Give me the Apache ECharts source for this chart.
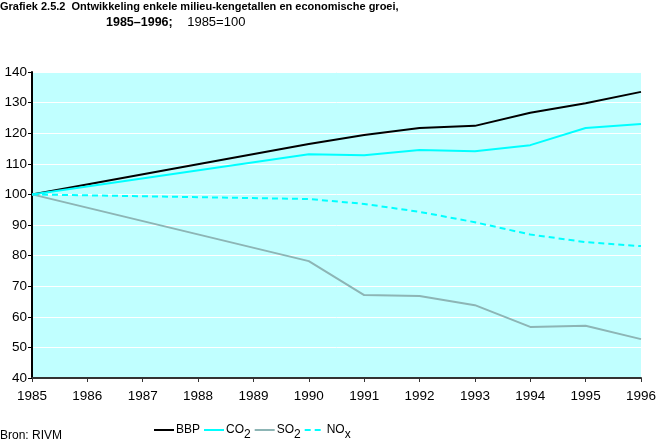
<!DOCTYPE html>
<html>
<head>
<meta charset="utf-8">
<script src="https://cdn.jsdelivr.net/npm/echarts@6/dist/echarts.min.js"></script>
<style>html,body{margin:0;padding:0;background:#fff}#c{width:659px;height:443px}</style>
</head>
<body>
<div id="c"></div>
<script>
var years = [1985, 1990, 1991, 1992, 1993, 1994, 1995, 1996];
var xTicks = [1985, 1986, 1987, 1988, 1989, 1990, 1991, 1992, 1993, 1994, 1995, 1996];
var bbp = [100, 116.5, 119.4, 121.7, 122.4, 126.7, 129.8, 133.5];
var co2 = [100, 113.1, 112.8, 114.5, 114.1, 116.1, 121.7, 123.0];
var so2 = [100, 78.2, 67.1, 66.8, 63.8, 56.7, 57.1, 52.7];
var nox = [100, 98.5, 96.9, 94.3, 90.9, 86.9, 84.4, 83.1];
var seriesNames = ['BBP', 'CO2', 'SO2', 'NOx'];

function pairs(vals) { return years.map(function (y, i) { return [y, vals[i]]; }); }
var FONT = 'Liberation Sans';
var chart = echarts.init(document.getElementById('c'));
chart.setOption({
  animation: false,
  backgroundColor: '#ffffff',
  textStyle: { fontFamily: FONT },
  title: [
    { text: 'Grafiek 2.5.2  Ontwikkeling enkele milieu-kengetallen en economische groei,', left: 0, top: 1, padding: 0,
      textStyle: { fontFamily: FONT, fontSize: 11, fontWeight: 'bold', color: '#000' } },
    { text: '{b|1985–1996;}{n|    1985=100}', left: 106, top: 16, padding: 0,
      textStyle: { fontFamily: FONT, fontSize: 12, fontWeight: 'normal', color: '#000',
        rich: { b: { fontFamily: FONT, fontSize: 12.5, fontWeight: 'bold', color: '#000' },
                n: { fontFamily: FONT, fontSize: 13, fontWeight: 'normal', color: '#000' } } } },
    { text: 'Bron: RIVM', left: 0, top: 430, padding: 0,
      textStyle: { fontFamily: FONT, fontSize: 12, fontWeight: 'normal', color: '#000' } }
  ],
  grid: { left: 32, right: 17, top: 72, bottom: 65, show: true, backgroundColor: '#C0FFFF', borderWidth: 0 },
  legend: {
    top: 419, left: 148, itemWidth: 20, itemHeight: 12, itemGap: 3,
    data: seriesNames,
    itemStyle: { opacity: 0 },
    textStyle: { fontFamily: FONT, fontSize: 12, color: '#000', padding: [0, 0, 0, -3],
      rich: { s: { fontFamily: FONT, fontSize: 12, color: '#000', padding: [9, 0, 0, 0] } } },
    formatter: function (n) {
      if (n === 'CO2') return 'CO{s|2}';
      if (n === 'SO2') return 'SO{s|2}';
      if (n === 'NOx') return 'NO{s|x}';
      return n;
    }
  },
  xAxis: {
    type: 'value', min: 1985, max: 1996, interval: 1,
    axisLine: { lineStyle: { color: '#333', width: 2 } },
    axisTick: { show: true, length: 4, lineStyle: { color: '#333' } },
    axisLabel: { color: '#000', fontSize: 13.5, fontFamily: FONT, margin: 11, formatter: function (v) { return String(v); } },
    splitLine: { show: false }
  },
  yAxis: {
    type: 'value', min: 40, max: 140, interval: 10,
    axisLine: { show: true, lineStyle: { color: '#000', width: 2 } },
    axisTick: { show: true, length: 4, lineStyle: { color: '#000' } },
    axisLabel: { color: '#000', fontSize: 13.5, fontFamily: FONT, margin: 5 },
    splitLine: { show: true, lineStyle: { color: '#ffffff', width: 1 } }
  },
  series: [
    { name: 'BBP', type: 'line', data: pairs(bbp), symbol: 'none', lineStyle: { color: '#000000', width: 2 }, itemStyle: { color: '#000000' } },
    { name: 'CO2', type: 'line', data: pairs(co2), symbol: 'none', lineStyle: { color: '#00FFFF', width: 2 }, itemStyle: { color: '#00FFFF' } },
    { name: 'SO2', type: 'line', data: pairs(so2), symbol: 'none', lineStyle: { color: '#8DB5B5', width: 2 }, itemStyle: { color: '#8DB5B5' } },
    { name: 'NOx', type: 'line', data: pairs(nox), symbol: 'none', lineStyle: { color: '#00FFFF', width: 2, type: [6, 4] }, itemStyle: { color: '#00FFFF' } }
  ]
});
</script>
</body>
</html>
